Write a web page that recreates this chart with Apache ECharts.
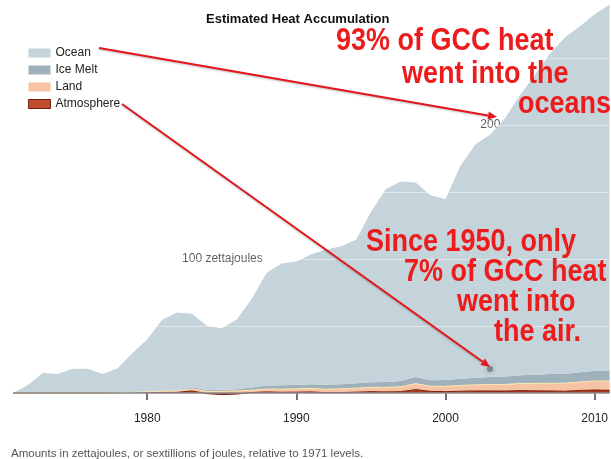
<!DOCTYPE html>
<html>
<head>
    <meta charset="utf-8">
    <title>Estimated Heat Accumulation</title>
    <script src="https://cdn.jsdelivr.net/npm/echarts@6.0.0/dist/echarts.min.js"></script>
    <style>
        html, body { margin: 0; padding: 0; background: #fff; }
        #grafico { width: 611px; height: 459px; }
    </style>
</head>
<body>
    <div id="grafico"></div>

    <script>
        // Datos (zettajoules, relativo a 1971)
        const anios = ['1971', '1972', '1973', '1974', '1975', '1976', '1977', '1978', '1979', '1980',
            '1981', '1982', '1983', '1984', '1985', '1986', '1987', '1988', '1989', '1990',
            '1991', '1992', '1993', '1994', '1995', '1996', '1997', '1998', '1999', '2000',
            '2001', '2002', '2003', '2004', '2005', '2006', '2007', '2008', '2009', '2010', '2011'];

        const atmosfera = [0, 0, 0, 0.1, 0.1, 0, 0.1, 0.2, 0.3, 0.4,
            0.5, 0.5, 1.5, -0.5, -1.2, -0.8, 0.3, 0.8, 0.5, 0.6,
            0.8, 0.2, 0.3, 0.6, 1.0, 0.8, 1.0, 2.5, 1.2, 1.0,
            1.3, 1.5, 1.5, 1.4, 1.8, 1.6, 1.5, 1.3, 1.9, 2.2, 2.0];
        const tierra = [0, 0, 0, 0, 0, 0, 0, 0, 0.2, 0.5,
            0.8, 1.0, 1.5, 1.2, 1.3, 1.5, 1.8, 2.2, 2.4, 2.5,
            2.6, 2.6, 2.8, 3.0, 3.2, 3.4, 3.6, 4.5, 3.8, 4.0,
            4.3, 4.6, 4.8, 5.0, 5.3, 5.5, 5.8, 6.0, 6.3, 6.8, 7.0];
        const hielo = [0, 0, 0, 0, 0, 0, 0, 0, 0.1, 0.2,
            0.4, 0.6, 1.2, 1.0, 1.1, 1.3, 2.0, 2.5, 2.8, 3.0,
            3.2, 3.3, 3.5, 3.7, 3.8, 4.0, 4.3, 5.0, 4.5, 4.6,
            5.0, 5.3, 5.6, 5.9, 6.2, 6.5, 6.8, 7.0, 7.3, 7.6, 7.8];
        const oceano = [0, 6, 15, 14, 18, 18, 14, 18, 29, 39,
            53, 58, 55, 48, 46, 52, 66, 84, 91, 92,
            97, 101, 103, 107, 127, 144, 149, 145, 138, 135,
            159, 174, 181, 193, 209, 224, 239, 251, 258, 266, 273];

        const etiquetasX = ['1980', '1990', '2000', '2010'];
        const lineasGuia = [50, 100, 150, 200, 250];

        const colores = {
            'Ocean': '#c5d3da',
            'Ice Melt': '#9fb1ba',
            'Land': '#f6c3a4',
            'Atmosphere': '#a9381f'
        };

        const grafico = echarts.init(document.getElementById('grafico'));

        function serie(nombre, valores, extra) {
            return Object.assign({
                name: nombre,
                type: 'line',
                stack: 'total',
                symbol: 'none',
                data: valores,
                itemStyle: { color: colores[nombre] },
                lineStyle: { width: 0 },
                areaStyle: { color: colores[nombre], opacity: 1 }
            }, extra || {});
        }

        // Flecha roja (anotacion)
        function flecha(x1, y1, x2, y2) {
            const ang = Math.atan2(y2 - y1, x2 - x1);
            const L = 9, W = 4;
            const bx = x2 - L * Math.cos(ang), by = y2 - L * Math.sin(ang);
            const px = -Math.sin(ang) * W, py = Math.cos(ang) * W;
            return [{
                type: 'line', z: 100,
                shape: { x1: x1, y1: y1, x2: bx, y2: by },
                style: { stroke: '#e3161b', lineWidth: 2, shadowColor: 'rgba(0,0,0,0.25)', shadowBlur: 2, shadowOffsetY: 1 }
            }, {
                type: 'polygon', z: 100,
                shape: { points: [[x2, y2], [bx + px, by + py], [bx - px, by - py]] },
                style: { fill: '#e3161b' }
            }];
        }

        function textoRojo(texto, x, y) {
            return {
                type: 'text', z: 101, x: x, y: y, scaleY: 1.15,
                style: {
                    text: texto,
                    fill: '#ec1c1c',
                    font: 'bold 27px "Liberation Sans", Arial, sans-serif',
                    align: 'left',
                    verticalAlign: 'middle',
                    shadowColor: 'rgba(0,0,0,0.35)',
                    shadowBlur: 3,
                    shadowOffsetX: 2,
                    shadowOffsetY: 2
                }
            };
        }

        const opciones = {
            animation: false,
            title: [{
                text: 'Estimated Heat Accumulation',
                left: 201, top: 8,
                textStyle: { fontSize: 13, fontWeight: 'bold', color: '#111', fontFamily: 'Liberation Sans' }
            }, {
                text: 'Amounts in zettajoules, or sextillions of joules, relative to 1971 levels.',
                left: 6, top: 443,
                textStyle: { fontSize: 11.5, fontWeight: 'normal', color: '#555', fontFamily: 'Liberation Sans' }
            }],
            legend: {
                orient: 'vertical',
                left: 23, top: 42,
                itemWidth: 22, itemHeight: 9, itemGap: 5,
                icon: 'rect',
                textStyle: { fontSize: 12, color: '#222', fontFamily: 'Liberation Sans' },
                data: [
                    { name: 'Ocean', itemStyle: { color: colores['Ocean'] } },
                    { name: 'Ice Melt', itemStyle: { color: colores['Ice Melt'] } },
                    { name: 'Land', itemStyle: { color: colores['Land'] } },
                    { name: 'Atmosphere', itemStyle: { color: '#c0502f', borderColor: '#7a1c0c', borderWidth: 1 } }
                ]
            },
            grid: { left: 13, right: -2, top: 0, bottom: 55.3 },
            xAxis: {
                type: 'category',
                data: anios,
                boundaryGap: false,
                offset: 4,
                splitLine: { show: false },
                axisLine: { show: false },
                axisTick: {
                    show: true, length: 7, alignWithLabel: true,
                    interval: (i, v) => etiquetasX.includes(v),
                    lineStyle: { color: '#444', width: 1.5 }
                },
                axisLabel: {
                    interval: (i, v) => etiquetasX.includes(v),
                    margin: 5, fontSize: 12, color: '#222', fontFamily: 'Liberation Sans'
                }
            },
            yAxis: {
                type: 'value',
                min: -8, max: 293.3,
                show: false,
                splitLine: { show: false }
            },
            series: [
                serie('Atmosphere', atmosfera, {
                    lineStyle: { width: 1, color: '#7a1c0c' }
                }),
                serie('Land', tierra, {
                    lineStyle: { width: 1, color: '#f9e6b2' }
                }),
                serie('Ice Melt', hielo),
                serie('Ocean', oceano, {
                    markLine: {
                        silent: true,
                        symbol: ['none', 'none'],
                        label: { show: false },
                        data: lineasGuia.map(v => ({ yAxis: v, lineStyle: { color: 'rgba(255,255,255,0.45)', width: 1, type: 'solid' } }))
                            .concat([{ yAxis: 0, lineStyle: { color: '#8d8d8d', width: 1.5, type: 'solid' } }])
                    }
                }),
                {
                    // etiquetas del eje de valores
                    type: 'scatter',
                    symbolSize: 0,
                    silent: true,
                    data: [['1982', 100, '100 zettajoules'], ['2002', 200, '200']],
                    label: {
                        show: true, position: 'right',
                        formatter: p => p.data[2],
                        fontSize: 12, color: '#333', fontFamily: 'Liberation Sans'
                    }
                }
            ],
            graphic: [].concat(
                flecha(99, 48, 497, 117),
                flecha(122, 104, 490, 367),
                [{
                    type: 'circle', z: 99,
                    shape: { cx: 490, cy: 369, r: 3 },
                    style: { fill: 'rgba(90,100,105,0.6)', shadowColor: 'rgba(60,60,60,0.6)', shadowBlur: 4 }
                }],
                [
                    textoRojo('93% of GCC heat', 336, 41),
                    textoRojo('went into the', 402, 74),
                    textoRojo('oceans', 518, 104),
                    textoRojo('Since 1950, only', 366, 242),
                    textoRojo('7% of GCC heat', 404, 272),
                    textoRojo('went into', 457, 302),
                    textoRojo('the air.', 494, 332)
                ]
            )
        };

        grafico.setOption(opciones);
    </script>
</body>
</html>
